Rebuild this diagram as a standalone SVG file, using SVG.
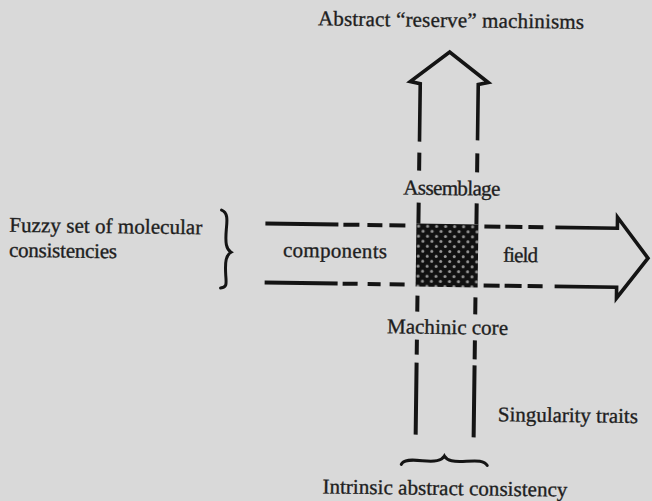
<svg xmlns="http://www.w3.org/2000/svg" width="652" height="501" viewBox="0 0 652 501">
  <defs>
    <!-- stippled fill for the machinic core square -->
    <pattern id="dots" width="9" height="10" patternUnits="userSpaceOnUse" x="416" y="224">
      <rect width="9" height="10" fill="#111"/>
      <circle cx="2.25" cy="2.5" r="1.5" fill="#9a9a9a"/>
      <circle cx="6.75" cy="7.5" r="1.5" fill="#9a9a9a"/>
    </pattern>
    <style>
      .ln { fill: none; stroke: #141414; stroke-width: 4; stroke-linecap: butt; stroke-linejoin: miter; }
      .head { fill: none; stroke: #141414; stroke-width: 3.6; stroke-linejoin: miter; stroke-miterlimit: 10; }
      .brace { fill: none; stroke: #141414; stroke-width: 3; stroke-linecap: round; }
      .lbl { font-family: "Liberation Serif", "Times New Roman", serif; font-size: 21px; fill: #1e1e1e; stroke: #1e1e1e; stroke-width: 0.35; }
      .mid { text-anchor: middle; }
    </style>
  </defs>

  <rect width="652" height="501" fill="#d9d9d9"/>

  <g transform="rotate(0.75 447 256)">
    <g id="connectors">
      <!-- vertical arrow: up towards the abstract machinisms -->
      <path class="head" d="M418,142 V84 L408,82 L447,52 L486,82 L476,84 V140"/>
      <path class="ln" d="M418,153 V171 M418,203 V224 M418,296 V312 M418,340 V355 M418,363 V435"/>
      <path class="ln" d="M476,153 V172 M476,203 V224 M476,297 V314 M476,340 V359 M476,365 V437"/>

      <!-- horizontal arrow: components towards field -->
      <path class="ln" d="M265,226 H338 M343,226 H359 M367,226 H382 M389,226 H405 M484,226 H500 M505,226 H522 M528,226 H543"/>
      <path class="ln" d="M265,285 H338 M343,285 H358 M368,285 H381 M390,285 H405 M484,285 H500 M505,285 H522 M528,285 H543"/>
      <path class="head" d="M555,226 H617 V215 L648,255.5 L617,296 V285 H555"/>

      <!-- braces -->
      <path class="brace" d="M221,213 C227,215 227,222 226,232 C225,246 226,252 231,255 C226,258 225,264 226,278 C227,288 227,290 221,291"/>
      <path class="brace" d="M404,465 C406,460 414,460 425,461 C438,462 444,461 447,456 C450,461 456,462 469,461 C480,460 487,460 490,465"/>
    </g>

    <g id="core">
      <rect x="416" y="224" width="62" height="63" fill="url(#dots)"/>
    </g>

    <g id="abstract-machinisms">
      <text class="lbl mid" x="448" y="27" textLength="266">Abstract  “reserve”  machinisms</text>
    </g>
    <g id="assemblage">
      <text class="lbl mid" x="451" y="195" textLength="97">Assemblage</text>
    </g>
    <g id="components">
      <text class="lbl" x="283" y="259" textLength="104">components</text>
    </g>
    <g id="field">
      <text class="lbl" x="503" y="261" textLength="35">field</text>
    </g>
    <g id="machinic-core">
      <text class="lbl" x="388" y="334" textLength="121">Machinic core</text>
    </g>
    <g id="molecular">
      <text class="lbl" x="9" y="237.5" textLength="193">Fuzzy set of molecular</text>
      <text class="lbl" x="9" y="262.5" textLength="108">consistencies</text>
    </g>
    <g id="singularity">
      <text class="lbl" x="500" y="420.5" textLength="140">Singularity  traits</text>
    </g>
    <g id="consistency">
      <text class="lbl mid" x="448" y="495" textLength="245">Intrinsic abstract consistency</text>
    </g>
  </g>
</svg>
